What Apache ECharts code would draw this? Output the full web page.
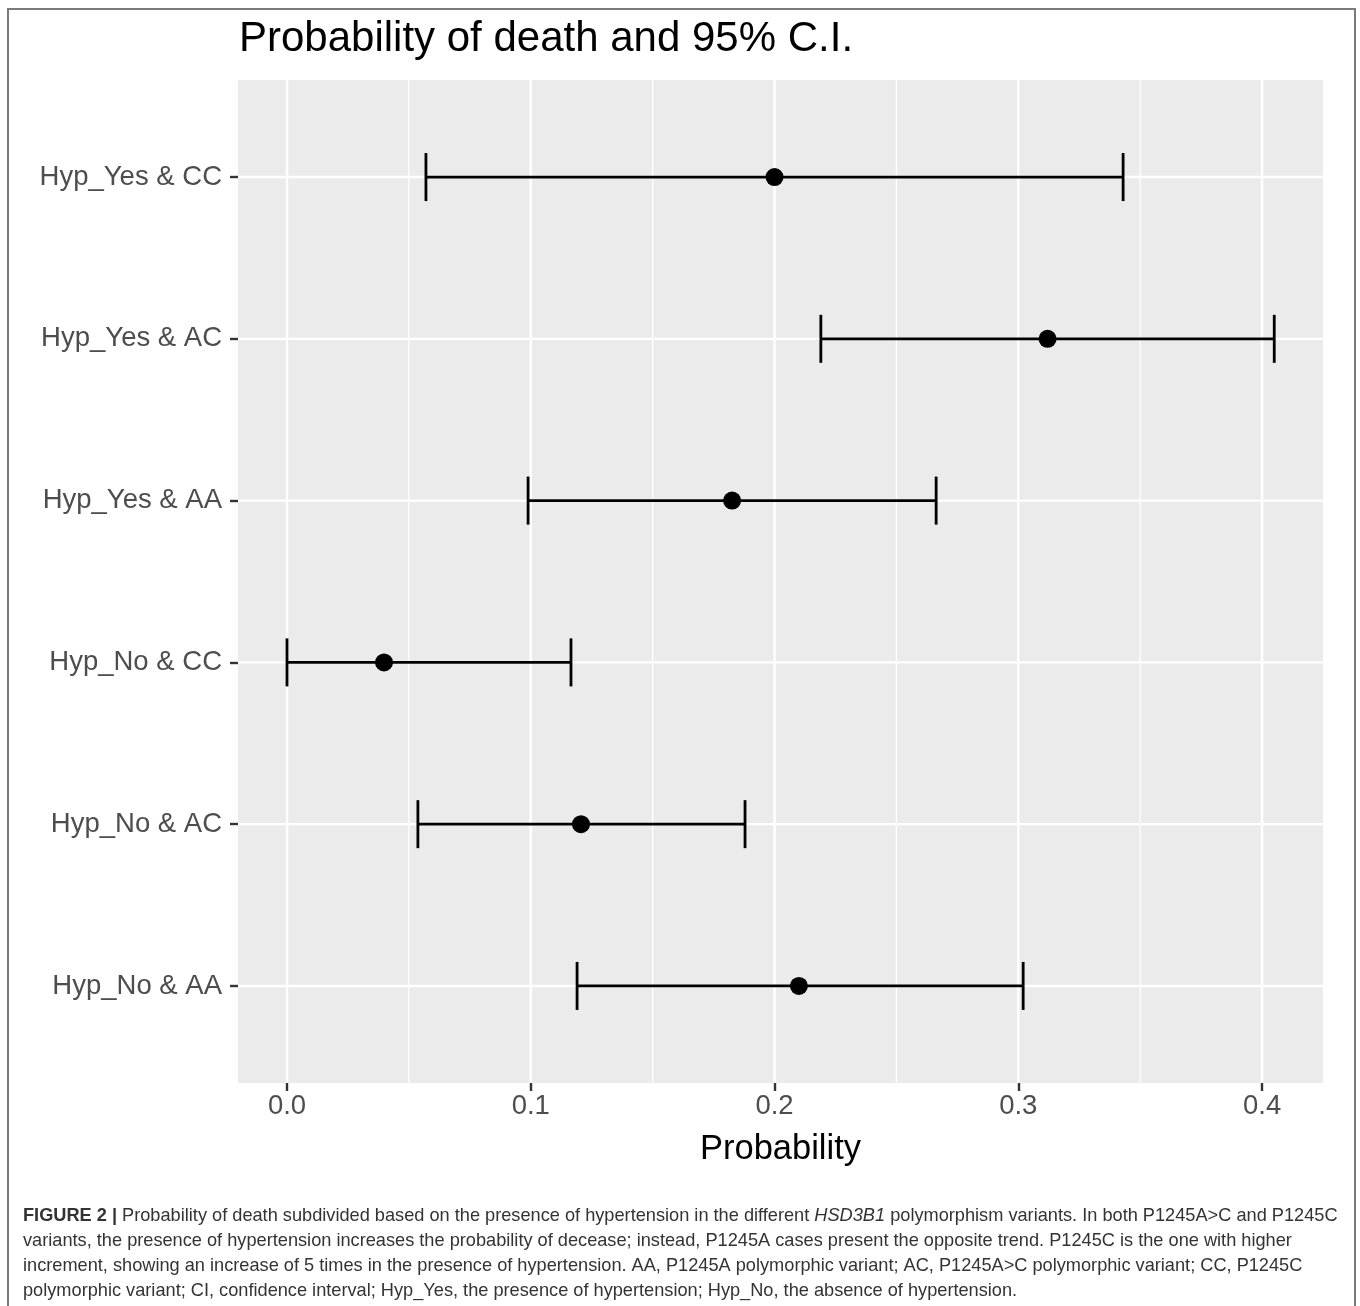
<!DOCTYPE html>
<html>
<head>
<meta charset="utf-8">
<title>Probability of death and 95% C.I.</title>
<script src="https://cdn.jsdelivr.net/npm/echarts@6.0.0/dist/echarts.min.js"></script>
<style>
  html, body { margin: 0; padding: 0; background: #fff; }
  #chart { width: 1360px; height: 1306px; }
</style>
</head>
<body>
<div id="chart"></div>
<script>
// groups, bottom to top (as drawn by ggplot)
const groups = ['Hyp_No & AA', 'Hyp_No & AC', 'Hyp_No & CC', 'Hyp_Yes & AA', 'Hyp_Yes & AC', 'Hyp_Yes & CC'];
const estimate = [0.210, 0.1206, 0.0398, 0.1826, 0.312, 0.200];
const lower    = [0.119, 0.0537, 0.000, 0.0989, 0.219, 0.057];
const upper    = [0.302, 0.1879, 0.1165, 0.2663, 0.405, 0.343];

const xTicks = [0, 0.1, 0.2, 0.3, 0.4];
const xMinor = [0.05, 0.15, 0.25, 0.35];
const yTicks = [0, 1, 2, 3, 4, 5];

const captionLines = [
  '{b|FIGURE 2 |} Probability of death subdivided based on the presence of hypertension in the different {i|HSD3B1} polymorphism variants. In both P1245A>C and P1245C',
  'variants, the presence of hypertension increases the probability of decease; instead, P1245A cases present the opposite trend. P1245C is the one with higher',
  'increment, showing an increase of 5 times in the presence of hypertension. AA, P1245A polymorphic variant; AC, P1245A>C polymorphic variant; CC, P1245C',
  'polymorphic variant; CI, confidence interval; Hyp_Yes, the presence of hypertension; Hyp_No, the absence of hypertension.'
];

const FONT = '"Liberation Sans", Arial, Helvetica, sans-serif';

const chart = echarts.init(document.getElementById('chart'), null, { renderer: 'canvas' });

// panel grid lines, drawn under the marks: [direction, value, width]
const gridData = [];
xMinor.forEach(v => gridData.push(['x', v, 1.2]));
xTicks.forEach(v => gridData.push(['x', v, 2.4]));
yTicks.forEach(v => gridData.push(['y', v, 2.4]));

const option = {
  backgroundColor: '#fff',
  animation: false,
  title: [{
    text: 'Probability of death and 95% C.I.',
    left: 234,
    top: 13,
    textStyle: { fontFamily: FONT, fontSize: 42, fontWeight: 'normal', color: '#000' }
  }, {
    text: captionLines.join('\n'),
    left: 18,
    top: 1198,
    textStyle: {
      fontFamily: FONT, fontSize: 18.2, fontWeight: 'normal', color: '#333', lineHeight: 25,
      rich: {
        b: { fontFamily: FONT, fontSize: 18.2, fontWeight: 'bold', color: '#333', lineHeight: 25 },
        i: { fontFamily: FONT, fontSize: 18.2, fontStyle: 'italic', color: '#333', lineHeight: 25 }
      }
    }
  }],
  graphic: [{
    type: 'rect',
    shape: { x: 8, y: 9, width: 1347, height: 1320 },
    style: { fill: 'none', stroke: '#7a7a7a', lineWidth: 2 },
    silent: true
  }],
  grid: { left: 238, top: 80, width: 1085, height: 1003, backgroundColor: '#EBEBEB', show: true, borderWidth: 0 },
  xAxis: {
    type: 'value',
    min: -0.0201,
    max: 0.425,
    name: 'Probability',
    nameLocation: 'middle',
    nameGap: 49,
    nameTextStyle: { fontFamily: FONT, fontSize: 34.5, color: '#000' },
    axisLine: { show: false, onZero: false },
    axisTick: { show: true, length: 8, customValues: xTicks, lineStyle: { color: '#333', width: 2.4 } },
    axisLabel: {
      customValues: xTicks, margin: 9,
      fontFamily: FONT, fontSize: 27.5, color: '#4D4D4D',
      formatter: v => v.toFixed(1)
    },
    splitLine: { show: false }
  },
  yAxis: {
    type: 'value',
    min: -0.6,
    max: 5.6,
    axisLine: { show: false, onZero: false },
    axisTick: { show: true, length: 8, customValues: yTicks, lineStyle: { color: '#333', width: 2.4 } },
    axisLabel: {
      customValues: yTicks, margin: 16,
      fontFamily: FONT, fontSize: 27.5, color: '#4D4D4D',
      formatter: v => groups[Math.round(v)] || ''
    },
    splitLine: { show: false }
  },
  series: [{
    type: 'custom',
    name: 'grid',
    silent: true,
    z: 1,
    data: gridData,
    renderItem: function (params, api) {
      const dir = gridData[params.dataIndex][0];
      const v = gridData[params.dataIndex][1];
      const w = gridData[params.dataIndex][2];
      const cs = params.coordSys;
      let shape;
      if (dir === 'x') {
        const px = api.coord([v, 0])[0];
        shape = { x1: px, y1: cs.y, x2: px, y2: cs.y + cs.height };
      } else {
        const py = api.coord([0, v])[1];
        shape = { x1: cs.x, y1: py, x2: cs.x + cs.width, y2: py };
      }
      return { type: 'line', shape: shape, style: { stroke: '#fff', lineWidth: w } };
    }
  }, {
    type: 'custom',
    name: 'CI',
    silent: true,
    data: groups.map((g, i) => [i, lower[i], upper[i]]),
    renderItem: function (params, api) {
      const lo = api.coord([api.value(1), api.value(0)]);
      const hi = api.coord([api.value(2), api.value(0)]);
      const cap = 24;
      const st = { stroke: '#000', lineWidth: 2.8 };
      return {
        type: 'group',
        children: [
          { type: 'line', shape: { x1: lo[0], y1: lo[1], x2: hi[0], y2: hi[1] }, style: st },
          { type: 'line', shape: { x1: lo[0], y1: lo[1] - cap, x2: lo[0], y2: lo[1] + cap }, style: st },
          { type: 'line', shape: { x1: hi[0], y1: hi[1] - cap, x2: hi[0], y2: hi[1] + cap }, style: st }
        ]
      };
    },
    z: 3
  }, {
    type: 'scatter',
    name: 'Estimate',
    data: groups.map((g, i) => [estimate[i], i]),
    symbol: 'circle',
    symbolSize: 18,
    itemStyle: { color: '#000', opacity: 1 },
    z: 4
  }]
};

chart.setOption(option);
</script>
</body>
</html>
